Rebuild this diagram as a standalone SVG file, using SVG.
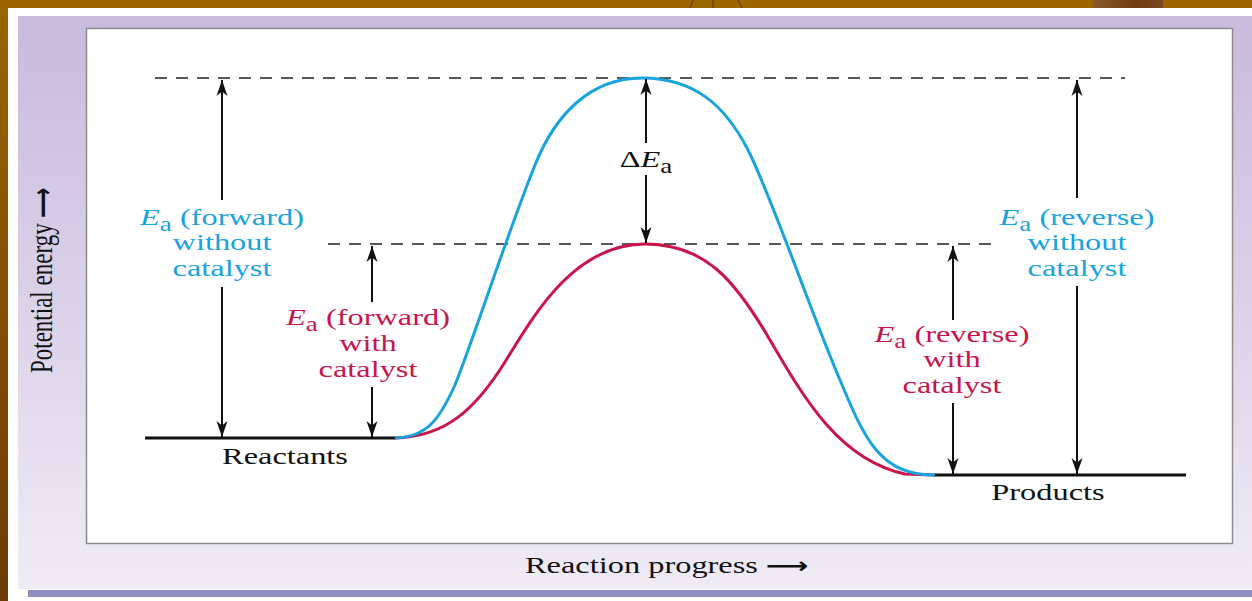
<svg xmlns="http://www.w3.org/2000/svg" width="1252" height="601" viewBox="0 0 1252 601">
<defs>
<linearGradient id="lav" x1="0" y1="0" x2="0" y2="1">
<stop offset="0" stop-color="#c8bbdc"/>
<stop offset="0.5" stop-color="#dad2e8"/>
<stop offset="1" stop-color="#efecf6"/>
</linearGradient>
<linearGradient id="brownL" x1="0" y1="0" x2="0" y2="1">
<stop offset="0" stop-color="#9b6500"/>
<stop offset="1" stop-color="#6c3a06"/>
</linearGradient>
<linearGradient id="blob" x1="0" y1="0" x2="1" y2="0">
<stop offset="0" stop-color="#8a5a2a"/>
<stop offset="0.6" stop-color="#6e3a10"/>
<stop offset="1" stop-color="#7a4a20"/>
</linearGradient>
<marker id="ah" viewBox="0 0 16 12" markerWidth="16" markerHeight="12" refX="16" refY="6" orient="auto" markerUnits="userSpaceOnUse">
<path d="M0,0.5 L16,6 L0,11.5 L4.5,6 Z" fill="#111"/>
</marker>
<style>
.lbl{font-family:"Liberation Serif","Times New Roman",serif;font-size:24px;text-anchor:middle}
.blue{fill:#18a3de}
.red{fill:#c8154b}
.blk{fill:#111}
.it{font-style:italic}
.sub{font-size:20px}
.arr{stroke:#111;stroke-width:2;fill:none;marker-end:url(#ah)}
.dash{stroke:#222;stroke-width:1.5;stroke-dasharray:12 9;fill:none}
.lvl{stroke:#111;stroke-width:3;fill:none}
.ax{font-family:"DejaVu Sans",sans-serif;font-weight:bold}
</style>
</defs>

<!-- background frame -->
<g id="frame">
<rect x="0" y="0" width="1252" height="601" fill="#9b6500"/>
<rect x="0" y="0" width="8" height="601" fill="url(#brownL)"/>
<rect x="1093" y="0" width="70" height="8" fill="url(#blob)"/>
<path d="M693,0 L690,8 M713,0 L713,8 M738,0 L742,8" stroke="#6a3a0a" stroke-width="1.2"/>
<rect x="8" y="8" width="1244" height="593" fill="#ffffff"/>
<rect x="18" y="16" width="1234" height="573" fill="url(#lav)"/>
<rect x="28" y="590" width="1224" height="7" fill="#8f8cc0"/>
<rect x="86.5" y="28.5" width="1146" height="515" fill="#ffffff" stroke="#8c8c8c" stroke-width="1.5"/>
</g>

<!-- energy levels and dashed references -->
<g id="levels">
<line class="dash" x1="155" y1="78" x2="1125" y2="78"/>
<line class="dash" x1="328" y1="244" x2="998" y2="244"/>
<line class="lvl" x1="145" y1="438" x2="396" y2="438"/>
<line class="lvl" x1="934" y1="475" x2="1186" y2="475"/>
</g>

<!-- curves -->
<g id="curves">
<path id="red-curve" d="M395,438 C445,437 475,410 505,362 C535,313 575,244 645,244 C705,244 735,280 770,340 C805,400 840,460 905,474 L935,475" stroke="#c8154b" stroke-width="3" fill="none"/>
<path id="blue-curve" d="M395,438 C428,437 440,418 455,385 C475,335 505,240 535,165 C555,115 590,78 642,78 C694,78 725,105 748,150 C771,195 810,310 840,380 C865,440 880,475 935,475" stroke="#18a3de" stroke-width="3" fill="none"/>
</g>

<!-- connectors (arrows) -->
<g id="connectors">
<line class="arr" x1="222" y1="200" x2="222" y2="80"/>
<line class="arr" x1="222" y1="287" x2="222" y2="437"/>
<line class="arr" x1="372" y1="302" x2="372" y2="246"/>
<line class="arr" x1="372" y1="387" x2="372" y2="437"/>
<line class="arr" x1="646" y1="143" x2="646" y2="79"/>
<line class="arr" x1="646" y1="175" x2="646" y2="243"/>
<line class="arr" x1="953" y1="320" x2="953" y2="246"/>
<line class="arr" x1="953" y1="403" x2="953" y2="474"/>
<line class="arr" x1="1077" y1="198" x2="1077" y2="80"/>
<line class="arr" x1="1077" y1="286" x2="1077" y2="474"/>
</g>

<g id="label-fwd-nocat">
<text class="lbl blue" transform="translate(222,225) scale(1.35,1)"><tspan class="it">E</tspan><tspan class="sub" dy="6">a</tspan><tspan dy="-6"> (forward)</tspan></text>
<text class="lbl blue" transform="translate(222,250) scale(1.35,1)">without</text>
<text class="lbl blue" transform="translate(222,276) scale(1.35,1)">catalyst</text>
</g>

<g id="label-fwd-cat">
<text class="lbl red" transform="translate(368,325) scale(1.35,1)"><tspan class="it">E</tspan><tspan class="sub" dy="6">a</tspan><tspan dy="-6"> (forward)</tspan></text>
<text class="lbl red" transform="translate(368,351) scale(1.35,1)">with</text>
<text class="lbl red" transform="translate(368,377) scale(1.35,1)">catalyst</text>
</g>

<g id="label-delta">
<text class="lbl blk" transform="translate(646,167) scale(1.35,1)">Δ<tspan class="it">E</tspan><tspan class="sub" dy="6">a</tspan></text>
</g>

<g id="label-rev-cat">
<text class="lbl red" transform="translate(952,342) scale(1.35,1)"><tspan class="it">E</tspan><tspan class="sub" dy="6">a</tspan><tspan dy="-6"> (reverse)</tspan></text>
<text class="lbl red" transform="translate(952,367) scale(1.35,1)">with</text>
<text class="lbl red" transform="translate(952,393) scale(1.35,1)">catalyst</text>
</g>

<g id="label-rev-nocat">
<text class="lbl blue" transform="translate(1077,225) scale(1.35,1)"><tspan class="it">E</tspan><tspan class="sub" dy="6">a</tspan><tspan dy="-6"> (reverse)</tspan></text>
<text class="lbl blue" transform="translate(1077,250) scale(1.35,1)">without</text>
<text class="lbl blue" transform="translate(1077,276) scale(1.35,1)">catalyst</text>
</g>

<g id="reactants">
<text class="lbl blk" transform="translate(285,464) scale(1.35,1)">Reactants</text>
</g>
<g id="products">
<text class="lbl blk" transform="translate(1048,500) scale(1.35,1)">Products</text>
</g>

<g id="axis-x">
<text class="lbl blk" style="text-anchor:start" transform="translate(525,573) scale(1.35,1)">Reaction progress <tspan class="ax" font-size="22">⟶</tspan></text>
</g>
<g id="axis-y">
<text class="lbl blk" style="text-anchor:start;font-size:23px" transform="translate(52,373) rotate(-90) scale(1,1.35)">Potential energy <tspan class="ax" font-size="21">⟶</tspan></text>
</g>
</svg>
